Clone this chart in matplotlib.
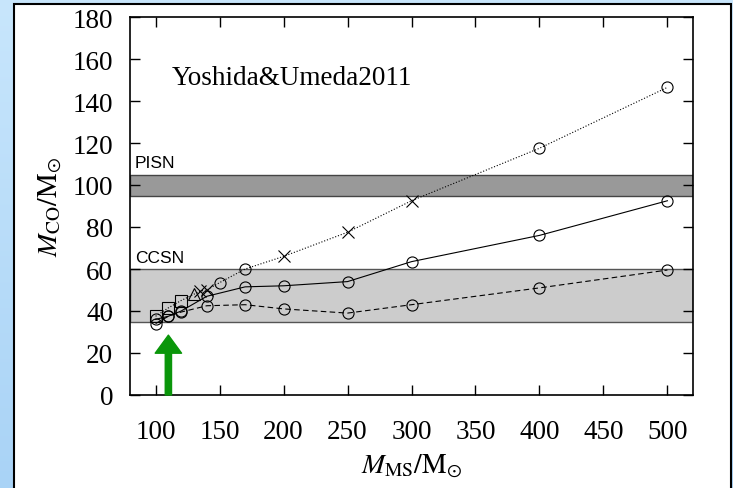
import matplotlib
matplotlib.use("Agg")
import numpy as np
import matplotlib.pyplot as plt
from matplotlib.colors import LinearSegmentedColormap
from matplotlib.patches import Rectangle, FancyArrowPatch

plt.rcParams["font.family"] = "Liberation Serif"
plt.rcParams["mathtext.fontset"] = "stix"

# CO core mass vs. main-sequence mass
solid_x = [100, 110, 120, 140, 170, 200, 250, 300, 400, 500]
solid_y = [36, 37.5, 40, 47, 51.5, 52, 54, 63.5, 76, 92.5]

dashed_x = [100, 110, 120, 140, 170, 200, 250, 300, 400, 500]
dashed_y = [34, 37.5, 39.5, 42.5, 43, 41, 39, 43, 51, 59.5]

dotted_x = [100, 110, 120, 130, 135, 140, 150, 170, 200, 250, 300, 400, 500]
dotted_y = [37.5, 41.5, 45, 48, 49.5, 50, 53.5, 60, 66, 77.5, 92.5, 117.5, 146.5]

square_x = [100, 110, 120]
square_y = [37.5, 41.5, 45]
triangle_x = [130]
triangle_y = [48]
cross_x = [135, 140, 200, 250, 300]
cross_y = [49.5, 50, 66, 77.5, 92.5]
circle_x = [150, 170, 400, 500]
circle_y = [53.5, 60, 117.5, 146.5]

ccsn_range = (35, 60)
pisn_range = (95, 105)

xticks = [100, 150, 200, 250, 300, 350, 400, 450, 500]
yticks = [0, 20, 40, 60, 80, 100, 120, 140, 160, 180]

fig = plt.figure(figsize=(7.33, 4.89), dpi=100)

# light-blue backdrop with a soft vertical gradient
bg = fig.add_axes([0, 0, 1, 1], zorder=-3)
bg.axis("off")
grad = np.linspace(0, 1, 256).reshape(-1, 1)
cmap = LinearSegmentedColormap.from_list("backdrop", ["#c8e6fc", "#a9d3f6"])
bg.imshow(grad, aspect="auto", cmap=cmap, extent=[0, 1, 0, 1], origin="upper")

panel = Rectangle((14 / 733, -0.01), 717 / 733, 1 - 5 / 489 + 0.01,
                  transform=fig.transFigure, facecolor="white",
                  edgecolor="black", linewidth=1.5, zorder=-1)
fig.patches.append(panel)

ax = fig.add_axes([130 / 733, 1 - 396 / 489, 563 / 733, 378 / 489])
ax.set_zorder(1)
ax.set_facecolor("white")

ax.axhspan(*ccsn_range, facecolor="#cccccc", edgecolor="#555555", linewidth=1.0, zorder=1)
ax.axhspan(*pisn_range, facecolor="#999999", edgecolor="#444444", linewidth=1.0, zorder=1)
ax.text(84, 62, "CCSN", family="Liberation Sans", fontsize=12.5, va="bottom", ha="left")
ax.text(84, 107, "PISN", family="Liberation Sans", fontsize=12.5, va="bottom", ha="left")

mk = dict(markerfacecolor="none", markeredgecolor="black", markeredgewidth=0.8)
ax.plot(solid_x, solid_y, "-", color="black", lw=0.8, marker="o", ms=8, zorder=3, **mk)
ax.plot(dashed_x, dashed_y, "--", color="black", lw=0.8, marker="o", ms=8,
        dashes=(5, 3), zorder=3, **mk)
ax.plot(dotted_x, dotted_y, ":", color="black", lw=0.8, zorder=3)
ax.plot(square_x, square_y, "s", ms=8, zorder=4, **mk)
ax.plot(triangle_x, triangle_y, "^", ms=8, zorder=4, **mk)
ax.plot(cross_x, cross_y, "x", ms=9, color="black", mew=0.8, zorder=4)
ax.plot(circle_x, circle_y, "o", ms=8, zorder=4, **mk)

ax.text(113, 151, "Yoshida&Umeda2011", fontsize=19.5, va="center", ha="left")

arrow = FancyArrowPatch((110, 0), (110, 28.5),
                        arrowstyle="simple,head_length=13,head_width=19,tail_width=4.5",
                        mutation_scale=1, color="#0a960a", shrinkA=0, shrinkB=0,
                        zorder=5, clip_on=False)
ax.add_patch(arrow)

ax.set_xlim(80, 520)
ax.set_ylim(0, 180)
ax.set_xticks(xticks)
ax.set_yticks(yticks)
ax.tick_params(direction="in", top=True, right=True, length=7, width=1,
               labelsize=19.5, pad=12)
ax.tick_params(axis="x", pad=17)
for s in ax.spines.values():
    s.set_linewidth(1.2)

ax.set_xlabel(r"$M_{\rm MS}/{\rm M}_{\odot}$", fontsize=20, labelpad=6)
ax.set_ylabel(r"$M_{\rm CO}/{\rm M}_{\odot}$", fontsize=20, labelpad=6)

fig.savefig("out.png", dpi=100)
